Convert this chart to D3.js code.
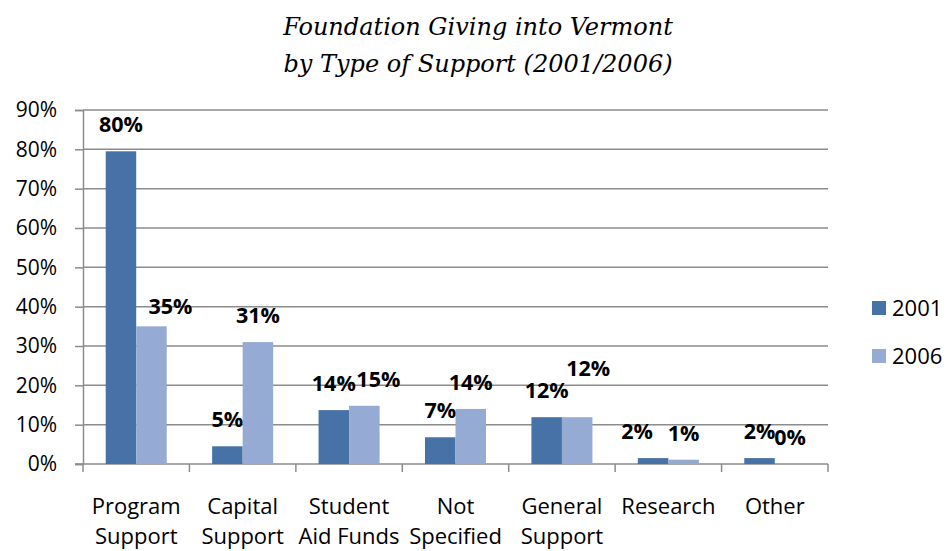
<!DOCTYPE html>
<html>
<head>
<meta charset="utf-8">
<script src="https://cdn.jsdelivr.net/npm/d3@7"></script>
<style>
  body { margin: 0; background: #fff; }
  svg { display: block; }
  .axis text { font-family: "Open Sans", sans-serif; fill: #000; }
</style>
</head>
<body>
<div id="chart"></div>
<script>
// data
const categories = [
    ["Program", "Support"],
    ["Capital", "Support"],
    ["Student", "Aid Funds"],
    ["Not", "Specified"],
    ["General", "Support"],
    ["Research"],
    ["Other"]
];
const series = ["2001", "2006"];
const values2001 = [79.5, 4.5, 13.7, 6.8, 11.9, 1.5, 1.5];
const values2006 = [35, 31, 14.8, 14, 11.9, 1.1, 0.1];
const labels2001 = ["80%", "5%", "14%", "7%", "12%", "2%", "2%"];
const labels2006 = ["35%", "31%", "15%", "14%", "12%", "1%", "0%"];
const yTicks = [0, 10, 20, 30, 40, 50, 60, 70, 80, 90];
const titleLines = ["Foundation Giving into Vermont", "by Type of Support (2001/2006)"];

const colors = { "2001": "#4672a8", "2006": "#95abd3" };

// label nudges to mimic where excel shoved the overlapping labels
const nudge = {
    "0|2006": [19, 7],
    "2|2006": [14, 0],
    "4|2006": [11, -22],
    "5|2001": [-16, 0]
};

const width = 948, height = 551;
const margin = { left: 83, right: 120, top: 110, bottom: 87 };

const svg = d3.select("#chart")
    .append("svg")
    .attr("width", width)
    .attr("height", height);

const rows = categories.map(function(c, i) {
    return {
        i: i,
        name: c,
        vals: [
            { s: "2001", v: values2001[i], label: labels2001[i] },
            { s: "2006", v: values2006[i], label: labels2006[i] }
        ]
    };
});

const x0 = d3.scaleBand()
    .domain(d3.range(categories.length))
    .range([margin.left, width - margin.right])
    .padding(0);

const x1 = d3.scaleBand()
    .domain(series)
    .range([0, x0.bandwidth()])
    .paddingInner(0)
    .paddingOuter(0.744);

const y = d3.scaleLinear()
    .domain([0, 90])
    .range([height - margin.bottom, margin.top]);

// title
svg.append("g")
    .selectAll("text")
    .data(titleLines)
    .enter().append("text")
    .attr("x", 478)
    .attr("y", function(d, i) { return 35 + i * 37; })
    .attr("text-anchor", "middle")
    .style("font-family", "'DejaVu Serif', serif")
    .style("font-style", "italic")
    .style("font-size", "24px")
    .text(function(d) { return d; });

// gridlines
svg.append("g")
    .selectAll("line")
    .data(yTicks.slice(1))
    .enter().append("line")
    .attr("x1", margin.left)
    .attr("x2", width - margin.right)
    .attr("y1", function(d) { return y(d); })
    .attr("y2", function(d) { return y(d); })
    .attr("stroke", "#8c8c8c")
    .attr("stroke-width", 1.5);

// y axis
const yAxis = svg.append("g")
    .attr("class", "axis")
    .attr("transform", "translate(" + margin.left + ",0)")
    .call(d3.axisLeft(y)
        .tickValues(yTicks)
        .tickFormat(function(d) { return d + "%"; })
        .tickSize(8)
        .tickPadding(18));
yAxis.selectAll("text").style("font-size", "21px");
yAxis.selectAll("line, path").attr("stroke", "#8c8c8c").attr("stroke-width", 1.5);

// x axis: ticks at category boundaries
const xAxisG = svg.append("g")
    .attr("class", "axis")
    .attr("transform", "translate(0," + y(0) + ")");
xAxisG.append("line")
    .attr("x1", margin.left - 8)
    .attr("x2", width - margin.right)
    .attr("stroke", "#8c8c8c")
    .attr("stroke-width", 1.5);
xAxisG.selectAll(".tk")
    .data(d3.range(categories.length + 1))
    .enter().append("line")
    .attr("class", "tk")
    .attr("x1", function(d) { return x0.step() * d + margin.left; })
    .attr("x2", function(d) { return x0.step() * d + margin.left; })
    .attr("y1", 0)
    .attr("y2", 8)
    .attr("stroke", "#8c8c8c")
    .attr("stroke-width", 1.5);

const catLabel = xAxisG.selectAll(".cat")
    .data(rows)
    .enter().append("text")
    .attr("class", "cat")
    .attr("text-anchor", "middle")
    .style("font-size", "22px")
    .attr("transform", function(d) { return "translate(" + (x0(d.i) + x0.bandwidth() / 2) + ",0)"; });
catLabel.selectAll("tspan")
    .data(function(d) { return d.name; })
    .enter().append("tspan")
    .attr("x", 0)
    .attr("y", function(d, i) { return 50 + i * 30; })
    .text(function(d) { return d; });

// bars
const group = svg.append("g")
    .selectAll("g")
    .data(rows)
    .enter().append("g")
    .attr("transform", function(d) { return "translate(" + x0(d.i) + ",0)"; });

group.selectAll("rect")
    .data(function(d) { return d.vals; })
    .enter().append("rect")
    .attr("x", function(d) { return x1(d.s); })
    .attr("width", x1.bandwidth())
    .attr("y", function(d) { return y(d.v); })
    .attr("height", function(d) { return y(0) - y(d.v); })
    .attr("fill", function(d) { return colors[d.s]; });

// value labels
group.selectAll("text")
    .data(function(d) { return d.vals.map(function(v) { return Object.assign({ i: d.i }, v); }); })
    .enter().append("text")
    .attr("text-anchor", "middle")
    .style("font-family", "'Open Sans', sans-serif")
    .style("font-weight", "bold")
    .style("font-size", "21.5px")
    .attr("x", function(d) {
        const n = nudge[d.i + "|" + d.s] || [0, 0];
        return x1(d.s) + x1.bandwidth() / 2 + n[0];
    })
    .attr("y", function(d) {
        const n = nudge[d.i + "|" + d.s] || [0, 0];
        return y(d.v) - 19 + n[1];
    })
    .text(function(d) { return d.label; });

// legend
const legend = svg.append("g")
    .selectAll("g")
    .data(series)
    .enter().append("g")
    .attr("transform", function(d, i) { return "translate(872," + (301 + i * 48) + ")"; });
legend.append("rect")
    .attr("width", 14)
    .attr("height", 14)
    .attr("fill", function(d) { return colors[d]; });
legend.append("text")
    .attr("x", 20)
    .attr("y", 15)
    .style("font-family", "'Open Sans', sans-serif")
    .style("font-size", "22px")
    .text(function(d) { return d; });
</script>
</body>
</html>
